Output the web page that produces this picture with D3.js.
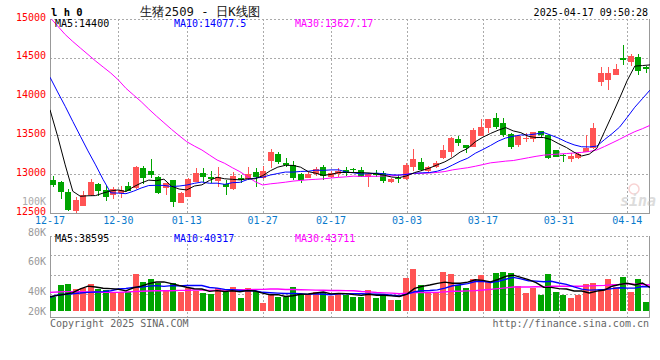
<!DOCTYPE html>
<html>
<head>
<meta charset="utf-8">
<script src="https://cdn.jsdelivr.net/npm/d3@7"></script>
<style>
body { margin: 0; background: #fff; }
text { font-family: "DejaVu Sans Mono", monospace; }
</style>
</head>
<body>
<div id="chart"></div>
<script>
// trading days shown (MM-DD)
const dates = ["12-17","12-18","12-19","12-20","12-23","12-24","12-25","12-26","12-27","12-30","12-31",
  "01-02","01-03","01-06","01-07","01-08","01-09","01-10","01-13","01-14","01-15","01-16","01-17",
  "01-20","01-21","01-22","01-23","01-24","01-27",
  "02-05","02-06","02-07","02-10","02-11","02-12","02-13","02-14","02-17","02-18","02-19","02-20",
  "02-21","02-24","02-25","02-26","02-27","02-28",
  "03-03","03-04","03-05","03-06","03-07","03-10","03-11","03-12","03-13","03-14","03-17","03-18",
  "03-19","03-20","03-21","03-24","03-25","03-26","03-27","03-28","03-31",
  "04-01","04-02","04-03","04-07","04-08","04-09","04-10","04-11","04-14","04-15","04-16","04-17"];

const opens = [12925,12903,12775,12530,12594,12732,12874,12796,12728,12754,
  12852,12818,13076,13041,12968,12818,12925,12633,12702,12903,
  13012,12968,12912,12869,12809,12955,12934,13024,12955,13174,
  13260,13140,13119,12998,12955,12998,13089,12968,12998,13054,
  13071,13054,12960,13011,13011,12895,12955,12934,13097,13153,
  13041,13089,13204,13290,13454,13376,13355,13497,13591,13720,
  13656,13514,13376,13454,13454,13557,13505,13312,13247,13192,
  13213,13290,13333,14193,14214,14279,14493,14450,14506,14386];
const highs = [12977,12916,12809,12710,12787,12938,12883,12852,12831,12852,
  12903,13105,13106,13196,12975,12891,12930,12770,12955,13084,
  13084,13045,13097,12925,13024,12990,13096,13076,13106,13320,
  13290,13205,13170,13011,13033,13097,13119,13041,13076,13097,
  13084,13097,13011,13054,13041,12947,12990,13140,13325,13213,
  13106,13170,13376,13484,13492,13380,13600,13711,13715,13793,
  13729,13527,13505,13527,13548,13560,13510,13315,13256,13269,
  13278,13505,13656,14386,14386,14416,14665,14549,14549,14394];
const lows = [12839,12677,12530,12496,12590,12725,12723,12659,12680,12689,
  12780,12810,12874,12947,12745,12732,12581,12625,12700,12895,
  12903,12883,12839,12732,12799,12882,12925,12839,12934,13076,
  13132,13097,12925,12891,12947,12977,12925,12955,12968,12977,
  13011,12968,12831,12968,12891,12891,12891,12925,13046,13046,
  13033,13076,13200,13226,13363,13278,13350,13490,13527,13578,
  13475,13325,13355,13419,13419,13484,13196,13217,13162,13162,
  13196,13282,13330,14137,14085,14275,14407,14394,14278,14309];
const closes = [12861,12775,12539,12668,12732,12896,12787,12702,12805,12796,
  12787,13097,12947,12990,12762,12883,12646,12762,12934,13012,
  12960,12934,12960,12839,12977,12925,13003,12960,13041,13290,
  13162,13119,12955,12925,13003,13063,12977,13020,13046,13011,
  13054,12968,13003,12990,12917,12938,12934,13119,13196,13054,
  13097,13140,13312,13471,13406,13333,13570,13604,13711,13613,
  13505,13355,13492,13471,13540,13505,13213,13226,13235,13239,
  13260,13333,13600,14300,14309,14356,14472,14528,14334,14352];
const volume = [35800,44000,44700,41100,41800,44700,41100,40700,39600,39600,
  39600,51300,46000,48000,45100,40000,45600,39600,42200,40200,
  38900,38000,41800,39600,42700,35600,42000,40200,32200,37300,
  36200,35800,42700,37300,38000,39600,38900,36700,38900,37300,
  36200,36200,40700,35600,37300,34000,34000,48900,54700,44000,
  38400,39600,52700,51300,44000,41800,47800,50700,46200,51800,
  52400,51800,43300,38400,41800,37300,51300,39100,37300,35100,
  37300,44700,45100,41100,47800,42900,49100,39100,47800,32700];

// moving-average values before a full window exists
const ma5Head = [13830,13490,13120,12780];
const ma10Head = [14250,14060,13875,13680,13490,13300,13120,12930,12760];
const ma30Head = [15020,14910,14800,14710,14626,14543,14459,14381,14304,14214,14107,14021,13935,
  13840,13750,13664,13578,13497,13419,13363,13312,13247,13183,13140,13084,13033,12968,12904,12861];
const vma5Head = [36200,37100,37800,38900];
const vma10Head = [35800,37300,37800,38200,38700,39100,39300,39600,40200];
const vma30Head = [39100,39300,39600,39600,39600,39300,39300,39100,39100,39100,39300,39600,39800,
  40000,40200,40200,40200,40400,40400,40700,40700,40400,40400,40700,40700,40900,40900,41100,41100];

const priceTicks = [12500,13000,13500,14000,14500,15000];
const volTicks = [20000,40000,60000,80000];
const dateTicks = ["12-17","12-30","01-13","01-27","02-17","03-03","03-17","03-31","04-14"];

const RED = "#ff5454", GREEN = "#00a400";
const plotL = 50, plotR = 650, plotT = 19, plotB = 213;
const vTop = 235.5, vBottom = 317.5, vBase = 311;

const svg = d3.select("#chart").append("svg")
  .attr("width", 660).attr("height", 360);

const x = d3.scaleBand().domain(dates).range([plotL, plotR]);
const gx = d3.scaleLinear().domain([0, dates.length - 1]).range([plotL, plotR]);
const y = d3.scaleLinear().domain([12500, 15000]).range([plotB, plotT]);
const vy = d3.scaleLinear().domain([26667, 80000]).range([vBase, 231]).clamp(true);
const vGrid = d3.scaleLinear().domain([0, 4]).range([vTop, 314]);

const px = v => Math.round(v) + 0.5;

function movingAvg(arr, n, head) {
  return arr.map((v, i) => i < head.length ? head[i] : d3.mean(arr.slice(i - n + 1, i + 1)));
}

const defs = svg.append("defs");
defs.append("clipPath").attr("id", "cp-main")
  .append("rect").attr("x", plotL).attr("y", plotT).attr("width", plotR - plotL).attr("height", plotB - plotT);
defs.append("clipPath").attr("id", "cp-vol")
  .append("rect").attr("x", plotL).attr("y", vTop).attr("width", plotR - plotL).attr("height", vBottom - vTop);

const grid = svg.append("g").attr("stroke", "#aaa").attr("stroke-dasharray", "2,2")
  .attr("shape-rendering", "crispEdges");

// horizontal grid, price panel (top edge included)
grid.selectAll(".hp").data(priceTicks.filter(p => p > 12500)).enter().append("line")
  .attr("x1", plotL).attr("x2", plotR)
  .attr("y1", d => px(y(d))).attr("y2", d => px(y(d)));

// horizontal grid, volume panel
grid.selectAll(".hv").data([0, 1, 2, 3]).enter().append("line")
  .attr("x1", plotL).attr("x2", plotR)
  .attr("y1", d => px(vGrid(d))).attr("y2", d => px(vGrid(d)));

// vertical grid
const vTickIdx = dateTicks.slice(1).map(t => dates.indexOf(t));
grid.selectAll(".vg1").data(vTickIdx).enter().append("line")
  .attr("x1", d => px(gx(d))).attr("x2", d => px(gx(d)))
  .attr("y1", plotT).attr("y2", plotB);
grid.selectAll(".vg2").data(vTickIdx).enter().append("line")
  .attr("x1", d => px(gx(d))).attr("x2", d => px(gx(d)))
  .attr("y1", vTop).attr("y2", vBottom);

// frame
const frame = svg.append("g").attr("stroke", "#999").attr("shape-rendering", "crispEdges");
frame.append("line").attr("x1", plotL + 0.5).attr("x2", plotL + 0.5).attr("y1", plotT).attr("y2", plotB + 1);
frame.append("line").attr("x1", plotR - 0.5).attr("x2", plotR - 0.5).attr("y1", plotT).attr("y2", plotB + 1);
frame.append("line").attr("x1", plotL).attr("x2", plotR).attr("y1", px(y(12500))).attr("y2", px(y(12500)));
frame.append("line").attr("x1", plotL + 0.5).attr("x2", plotL + 0.5).attr("y1", vTop).attr("y2", vBottom);
frame.append("line").attr("x1", plotR - 0.5).attr("x2", plotR - 0.5).attr("y1", vTop).attr("y2", vBottom);
frame.append("line").attr("x1", plotL).attr("x2", plotR).attr("y1", vBottom).attr("y2", vBottom);

// sina watermark
const wm = svg.append("g").attr("opacity", 0.5);
wm.append("circle").attr("cx", 634).attr("cy", 189).attr("r", 5)
  .attr("fill", "none").attr("stroke", "#f3a8a8").attr("stroke-width", 1.5);
wm.append("text").attr("x", 620).attr("y", 206)
  .attr("font-family", "DejaVu Sans").attr("font-size", 15).attr("font-style", "italic")
  .attr("font-weight", "bold").attr("fill", "#bbb").text("sina");

// candles
const candles = svg.append("g").attr("shape-rendering", "crispEdges");
const idx = d3.range(dates.length);
const color = i => closes[i] >= opens[i] ? RED : GREEN;
const bw = Math.round(x.bandwidth() * 0.8);

candles.selectAll(".wick").data(idx).enter().append("line")
  .attr("x1", i => Math.round(x(dates[i])) + bw / 2)
  .attr("x2", i => Math.round(x(dates[i])) + bw / 2)
  .attr("y1", i => y(highs[i])).attr("y2", i => y(lows[i]))
  .attr("stroke", color);

candles.selectAll(".body").data(idx).enter().append("rect")
  .attr("x", i => Math.round(x(dates[i])))
  .attr("width", bw)
  .attr("y", i => y(Math.max(opens[i], closes[i])))
  .attr("height", i => Math.max(1, Math.abs(y(opens[i]) - y(closes[i]))))
  .attr("fill", color);

// price moving averages
const priceLine = d3.line().x((d, i) => gx(i)).y(d => y(d));
const maMain = svg.append("g").attr("clip-path", "url(#cp-main)").attr("fill", "none");
[[movingAvg(closes, 30, ma30Head), "#ff00ff"],
 [movingAvg(closes, 10, ma10Head), "#0000ff"],
 [movingAvg(closes, 5, ma5Head), "#000"]].forEach(([s, c]) => {
  maMain.append("path").attr("d", priceLine(s)).attr("stroke", c).attr("stroke-width", 1);
});

// volume bars
svg.append("g").attr("shape-rendering", "crispEdges")
  .selectAll("rect").data(idx).enter().append("rect")
  .attr("x", i => Math.round(x(dates[i])))
  .attr("width", bw)
  .attr("y", i => vy(volume[i]))
  .attr("height", i => vBase - vy(volume[i]))
  .attr("fill", color);

// volume moving averages
const volLine = d3.line().x((d, i) => gx(i)).y(d => vy(d));
const maVol = svg.append("g").attr("clip-path", "url(#cp-vol)").attr("fill", "none");
[[movingAvg(volume, 30, vma30Head), "#ff00ff"],
 [movingAvg(volume, 10, vma10Head), "#0000ff"],
 [movingAvg(volume, 5, vma5Head), "#000"]].forEach(([s, c]) => {
  maVol.append("path").attr("d", volLine(s)).attr("stroke", c).attr("stroke-width", 1.4);
});

// axis labels
svg.append("g").selectAll("text").data(priceTicks).enter().append("text")
  .attr("x", 46).attr("y", d => y(d) - 2)
  .attr("text-anchor", "end").attr("dominant-baseline", "central")
  .attr("font-size", 10).attr("fill", "#f00").text(d => d);

svg.append("text").attr("x", 46).attr("y", 201)
  .attr("text-anchor", "end").attr("dominant-baseline", "central")
  .attr("font-size", 10).attr("fill", "#aaa").text("100K");

svg.append("g").selectAll("text").data(volTicks).enter().append("text")
  .attr("x", 46).attr("y", d => vy(d) + (d === 80000 ? 1.5 : 0))
  .attr("text-anchor", "end").attr("dominant-baseline", "central")
  .attr("font-size", 10).attr("fill", "#999").text(d => (d / 1000) + "K");

svg.append("g").selectAll("text").data(dateTicks).enter().append("text")
  .attr("x", d => gx(dates.indexOf(d))).attr("y", 220.5)
  .attr("text-anchor", "middle").attr("dominant-baseline", "central")
  .attr("font-size", 10).attr("fill", "#0a7acc").text(d => d);

// titles and legends
svg.append("text").attr("x", 51).attr("y", 16)
  .attr("font-size", 10.5).attr("font-weight", "bold").attr("fill", "#000").text("l h 0");
svg.append("text").attr("x", 140).attr("y", 16)
  .attr("font-family", "Noto Sans CJK SC").attr("font-size", 13).attr("fill", "#111")
  .attr("textLength", 120).attr("lengthAdjust", "spacingAndGlyphs")
  .text("生猪2509 - 日K线图");
svg.append("text").attr("x", 648).attr("y", 12)
  .attr("text-anchor", "end").attr("dominant-baseline", "central")
  .attr("font-size", 10).attr("fill", "#000").text("2025-04-17 09:50:28");

const legend = (yy, items) => {
  svg.append("g").selectAll("text").data(items).enter().append("text")
    .attr("x", d => d[0]).attr("y", yy).attr("dominant-baseline", "central")
    .attr("font-size", 10).attr("fill", d => d[2]).text(d => d[1]);
};
legend(23.5, [[55, "MA5:14400", "#000"], [174, "MA10:14077.5", "#0000ff"], [295, "MA30:13627.17", "#ff00ff"]]);
legend(238.5, [[55, "MA5:38595", "#000"], [174, "MA10:40317", "#0000ff"], [295, "MA30:43711", "#ff00ff"]]);

svg.append("text").attr("x", 50).attr("y", 323).attr("dominant-baseline", "central")
  .attr("font-size", 10).attr("fill", "#666").text("Copyright 2025 SINA.COM");
svg.append("text").attr("x", 649).attr("y", 323).attr("text-anchor", "end")
  .attr("dominant-baseline", "central")
  .attr("font-size", 10).attr("fill", "#666").text("http://finance.sina.com.cn");
</script>
</body>
</html>
